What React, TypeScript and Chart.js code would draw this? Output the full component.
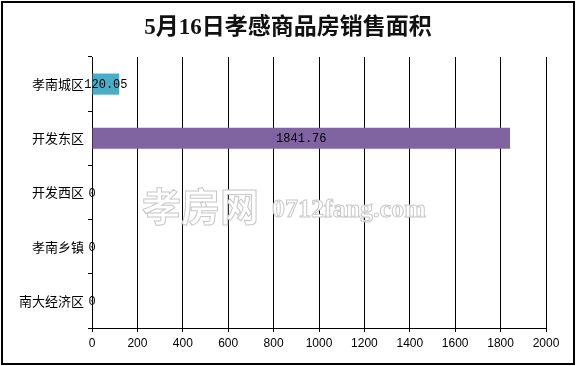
import React, { useEffect, useRef } from "react";
import { Chart, registerables } from "chart.js";

Chart.register(...registerables);

const TITLE = "5月16日孝感商品房销售面积";
const CATEGORIES = ["孝南城区", "开发东区", "开发西区", "孝南乡镇", "南大经济区"];
const VALUES = [120.05, 1841.76, 0, 0, 0];
const LABELS = ["120.05", "1841.76", "0", "0", "0"];
const COLORS = ["#4BACC6", "#8064A2", "#4BACC6", "#4BACC6", "#4BACC6"];
const X_MIN = 0;
const X_MAX = 2000;
const X_STEP = 200;
const WATERMARK_CN = "孝房网";
const WATERMARK_EN = "0712fang.com";

const decorPlugin = {
  id: "decor",
  beforeDraw(chart: any) {
    const ctx = chart.ctx;
    ctx.save();
    ctx.fillStyle = "#ffffff";
    ctx.fillRect(0, 0, chart.width, chart.height);
    ctx.restore();
  },
  beforeDatasetsDraw(chart: any) {
    const ctx = chart.ctx;
    ctx.save();
    ctx.lineWidth = 1;
    ctx.strokeStyle = "#c8c8c8";
    ctx.fillStyle = "#ffffff";
    ctx.textBaseline = "middle";
    ctx.textAlign = "left";
    ctx.font = "bold 39px 'Noto Sans CJK SC'";
    ctx.fillText(WATERMARK_CN, 142, 206);
    ctx.strokeText(WATERMARK_CN, 142, 206);
    ctx.font = "bold 26px 'Liberation Serif'";
    ctx.fillText(WATERMARK_EN, 272, 210);
    ctx.strokeText(WATERMARK_EN, 272, 210);
    ctx.restore();
  },
  afterDraw(chart: any) {
    const ctx = chart.ctx;
    ctx.save();
    const meta = chart.getDatasetMeta(0);
    ctx.fillStyle = "#000000";
    ctx.font = "12px 'Liberation Mono'";
    ctx.textAlign = "center";
    ctx.textBaseline = "middle";
    meta.data.forEach((bar: any, i: number) => {
      const x = (bar.x + bar.base) / 2;
      ctx.fillText(LABELS[i], x, bar.y + 1);
    });
    ctx.font = "bold 23px 'Liberation Serif', 'Noto Sans CJK SC'";
    ctx.fillStyle = "#111111";
    ctx.fillText(TITLE, 288, 28);
    ctx.strokeStyle = "#000000";
    ctx.lineWidth = 2;
    ctx.strokeRect(2, 2, 572, 362);
    ctx.restore();
  },
};

export default function App() {
  const ref = useRef<HTMLCanvasElement | null>(null);
  useEffect(() => {
    if (!ref.current) return;
    const chart = new Chart(ref.current, {
      type: "bar",
      data: {
        labels: CATEGORIES,
        datasets: [
          {
            data: VALUES,
            backgroundColor: COLORS,
            borderWidth: 0,
            barPercentage: 0.39,
            categoryPercentage: 1,
          },
        ],
      },
      options: {
        indexAxis: "y",
        responsive: false,
        animation: false,
        layout: { padding: { top: 57, right: 30, left: 0, bottom: 0 } },
        plugins: {
          legend: { display: false },
          title: { display: false },
          tooltip: { enabled: false },
        },
        scales: {
          x: {
            z: 1,
            min: X_MIN,
            max: X_MAX,
            ticks: {
              stepSize: X_STEP,
              color: "#000000",
              font: { family: "'Liberation Sans'", size: 12 },
              padding: 4,
              maxRotation: 0,
              callback: (v: any) => String(v),
            },
            grid: {
              color: "#000000",
              lineWidth: 1,
              drawTicks: true,
              tickLength: 4,
            },
            border: { color: "#000000", width: 1 },
            afterFit(scale: any) {
              scale.height = 38;
            },
          },
          y: {
            ticks: {
              color: "#000000",
              font: { family: "'Noto Sans CJK SC'", size: 13 },
              padding: 4,
            },
            grid: {
              drawOnChartArea: false,
              drawTicks: true,
              tickLength: 4,
              color: "#000000",
              offset: true,
            },
            border: { color: "#000000", width: 1 },
            afterFit(scale: any) {
              scale.width = 92;
            },
          },
        },
      },
      plugins: [decorPlugin],
    } as any);
    return () => chart.destroy();
  }, []);
  return (
    <div style={{ position: "fixed", left: 0, top: 0, width: 576, height: 366, background: "#fff" }}>
      <canvas ref={ref} width={576} height={366} />
    </div>
  );
}
